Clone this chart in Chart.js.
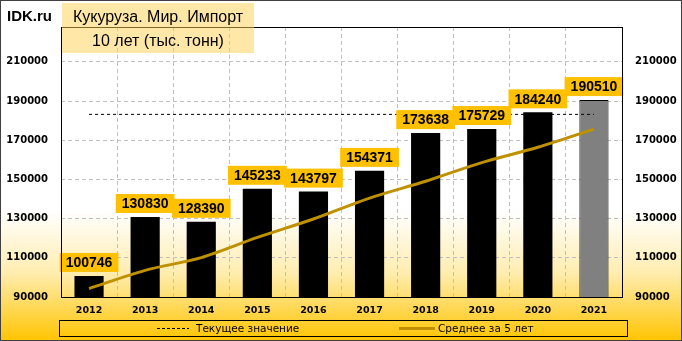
<!DOCTYPE html>
<html>
<head>
<meta charset="utf-8">
<script src="https://cdn.jsdelivr.net/npm/chart.js@4/dist/chart.umd.min.js"></script>
<style>
    html, body { margin: 0; padding: 0; background: #fff; }
    #wrap { width: 682px; height: 341px; position: relative; }
</style>
</head>
<body>
<div id="wrap"><canvas id="plot" width="682" height="341"></canvas></div>
<script>
const years = ['2012', '2013', '2014', '2015', '2016', '2017', '2018', '2019', '2020', '2021'];
const imports = [100746, 130830, 128390, 145233, 143797, 154371, 173638, 175729, 184240, 190510];
const avg5 = [94300, 103600, 110100, 120400, 129800, 140500, 149100, 158600, 166400, 175700];
const currentValue = 183200;
const yTicks = [90000, 110000, 130000, 150000, 170000, 190000, 210000];

const titleLines = ['Кукуруза. Мир. Импорт', '10 лет (тыс. тонн)'];
const legendNames = ['Текущее значение', 'Среднее за 5 лет'];

const GOLD = '#BF9000';
const LABEL_BG = '#FFC000';
const GRID = '#C0C0C0';

// background gradient + outer frame
const backdrop = {
    id: 'backdrop',
    beforeDraw(chart) {
        const { ctx, width, height } = chart;
        const g = ctx.createLinearGradient(0, 0, 0, height);
        g.addColorStop(0, '#ffffff');
        g.addColorStop(0.62, '#ffffff');
        g.addColorStop(0.8, '#FFEDB0');
        g.addColorStop(1, '#FFC400');
        ctx.save();
        ctx.fillStyle = g;
        ctx.fillRect(0, 0, width, height);
        ctx.restore();
    },
    afterDraw(chart) {
        const { ctx, width, height, chartArea: a } = chart;
        ctx.save();
        ctx.strokeStyle = '#000';
        ctx.lineWidth = 1;
        ctx.strokeRect(Math.round(a.left) + 0.5, Math.round(a.top) + 0.5,
            Math.round(a.right - a.left), Math.round(a.bottom - a.top));
        ctx.strokeStyle = '#404040';
        ctx.strokeRect(0.5, 0.5, width - 1, height - 1);
        ctx.restore();
    }
};

// value boxes above the bars
const valueBoxes = {
    id: 'valueBoxes',
    afterDatasetsDraw(chart) {
        const ctx = chart.ctx;
        const meta = chart.getDatasetMeta(0);
        ctx.save();
        ctx.font = 'bold 14px "Liberation Sans", Arial, sans-serif';
        ctx.textAlign = 'center';
        ctx.textBaseline = 'middle';
        meta.data.forEach((bar, i) => {
            const txt = String(imports[i]);
            const w = ctx.measureText(txt).width + 12;
            const h = 19;
            const bottom = bar.y - 4;
            ctx.fillStyle = LABEL_BG;
            ctx.fillRect(bar.x - w / 2, bottom - h, w, h);
            ctx.fillStyle = '#000';
            ctx.fillText(txt, bar.x, bottom - h / 2 + 1);
        });
        ctx.restore();
    }
};

// title box, site name and legend strip
const decorations = {
    id: 'decorations',
    afterDraw(chart) {
        const ctx = chart.ctx;
        ctx.save();

        ctx.fillStyle = 'rgba(255, 210, 80, 0.5)';
        ctx.fillRect(62, 3, 192, 50);
        ctx.fillStyle = '#000';
        ctx.font = '16px "Liberation Sans", Arial, sans-serif';
        ctx.textAlign = 'center';
        ctx.textBaseline = 'middle';
        ctx.fillText(titleLines[0], 158, 18);
        ctx.fillText(titleLines[1], 158, 42);

        ctx.font = 'bold 15px "Liberation Sans", Arial, sans-serif';
        ctx.textAlign = 'left';
        ctx.fillText('IDK.ru', 7, 17);

        // legend
        ctx.strokeStyle = '#000';
        ctx.lineWidth = 1;
        ctx.strokeRect(59.5, 320.5, 568, 16);
        ctx.font = '10.5px "DejaVu Sans", Verdana, sans-serif';
        ctx.textBaseline = 'middle';

        ctx.setLineDash([3, 2]);
        ctx.beginPath();
        ctx.moveTo(157, 328.5);
        ctx.lineTo(189, 328.5);
        ctx.stroke();
        ctx.setLineDash([]);
        ctx.fillText(legendNames[0], 196, 329);

        ctx.strokeStyle = GOLD;
        ctx.lineWidth = 3;
        ctx.beginPath();
        ctx.moveTo(399, 328.5);
        ctx.lineTo(435, 328.5);
        ctx.stroke();
        ctx.fillText(legendNames[1], 438, 329);

        ctx.restore();
    }
};

const tickFont = { family: '"DejaVu Sans", Verdana, sans-serif', size: 10, weight: 'bold' };

const yAxis = (pos, width) => ({
    type: 'linear',
    position: pos,
    min: 90000,
    max: 227800,
    afterFit: s => { s.width = width; },
    afterBuildTicks: s => { s.ticks = yTicks.map(v => ({ value: v })); },
    border: { display: false, dash: [4, 3] },
    grid: {
        display: pos === 'left',
        color: GRID,
        lineWidth: 1,
        drawTicks: false
    },
    ticks: {
        color: '#000',
        font: tickFont,
        padding: 13,
        callback: v => String(v)
    }
});

const chart = new Chart(document.getElementById('plot').getContext('2d'), {
    data: {
        labels: years,
        datasets: [
            {
                type: 'bar',
                label: 'Импорт',
                data: imports,
                backgroundColor: imports.map((v, i) => i === imports.length - 1 ? '#808080' : '#000000'),
                borderColor: '#000000',
                borderWidth: imports.map((v, i) => i === imports.length - 1 ? 1 : 0),
                barPercentage: 0.52,
                categoryPercentage: 1,
                order: 3,
                yAxisID: 'y'
            },
            {
                type: 'line',
                label: legendNames[0],
                data: years.map(() => currentValue),
                borderColor: '#000',
                borderWidth: 1,
                borderDash: [3, 3],
                pointRadius: 0,
                order: 2,
                yAxisID: 'y'
            },
            {
                type: 'line',
                label: legendNames[1],
                data: avg5,
                borderColor: GOLD,
                borderWidth: 3,
                pointRadius: 0,
                tension: 0.3,
                order: 1,
                yAxisID: 'y'
            }
        ]
    },
    options: {
        responsive: false,
        animation: false,
        layout: { padding: { top: 27, left: 0, right: 0, bottom: 0 } },
        plugins: {
            legend: { display: false },
            tooltip: { enabled: false }
        },
        scales: {
            x: {
                offset: true,
                afterFit: s => { s.height = 44; },
                border: { display: false, dash: [4, 3] },
                grid: {
                    offset: true,
                    color: GRID,
                    drawTicks: false
                },
                ticks: { color: '#000', font: { ...tickFont, size: 9.5 }, padding: 8 }
            },
            y: yAxis('left', 61),
            y2: yAxis('right', 60)
        }
    },
    plugins: [backdrop, valueBoxes, decorations]
});
</script>
</body>
</html>
